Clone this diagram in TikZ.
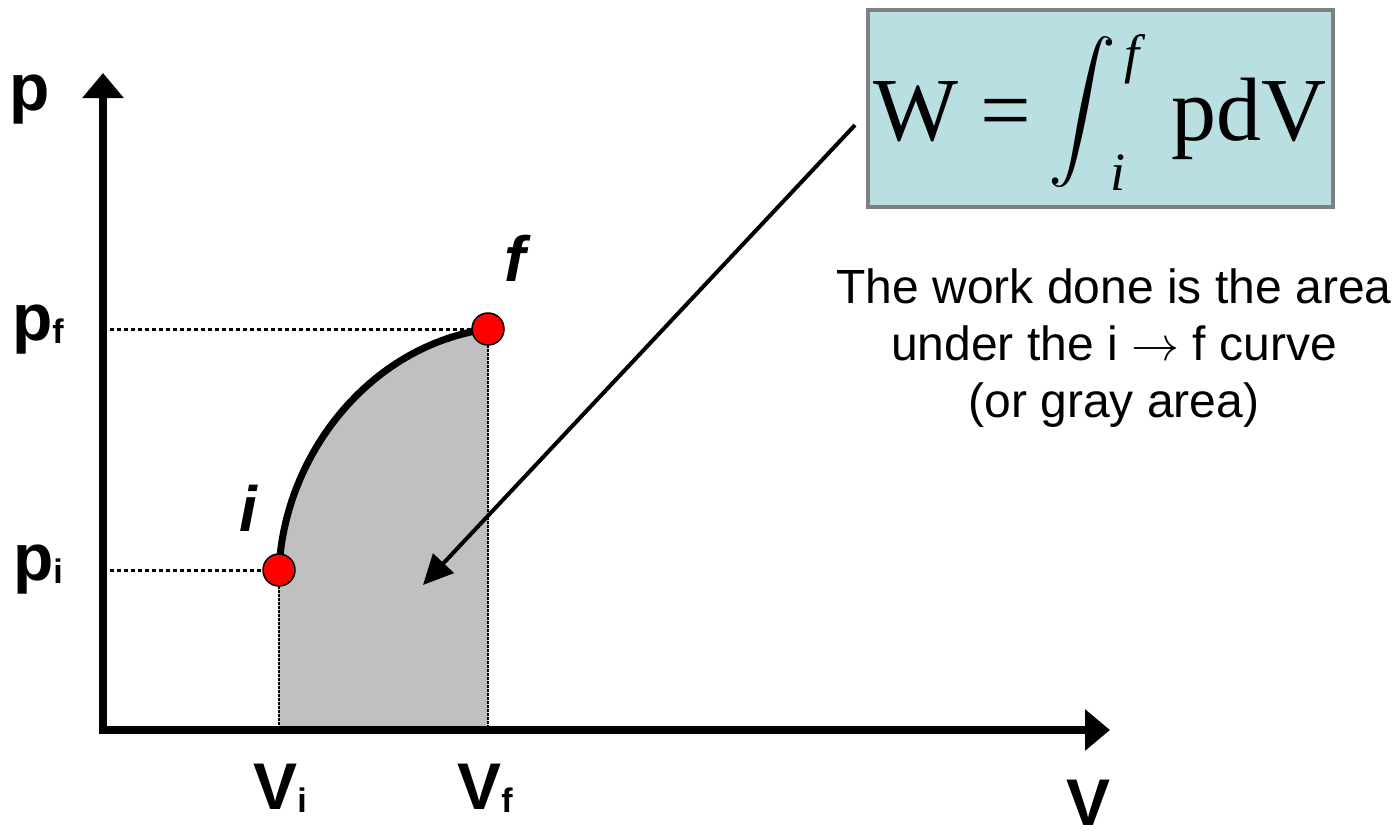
\documentclass[tikz,border=0pt]{standalone}
\usepackage{fontspec}
\usepackage{graphicx}
\setmainfont{Liberation Serif}
\setsansfont{Liberation Sans}
\usetikzlibrary{arrows.meta}
\definecolor{pointred}{HTML}{FF0000}
\definecolor{areagray}{HTML}{C0C0C0}
\definecolor{boxblue}{HTML}{B9DFE3}
\definecolor{boxedge}{HTML}{808080}
\newcommand{\axsub}[1]{\raisebox{-3pt}{\fontsize{34}{34}\selectfont #1}}
\newcommand{\limtxt}[1]{{\fontsize{54}{54}\selectfont\itshape #1}}

\begin{document}
\begin{tikzpicture}[x=1pt, y=-1pt,
    axis/.style={line width=8pt, -{Triangle[length=25pt,width=40pt]}},
    guide/.style={line width=3pt, dash pattern=on 4pt off 3pt},
    drop/.style={line width=1.2pt, dash pattern=on 3pt off 1pt},
    state/.style={circle, draw, line width=1.5pt, fill=pointred, minimum size=32pt, inner sep=0pt},
    pointer/.style={line width=4pt, -{Triangle[length=30pt,width=28pt]}},
    axlabel/.style={font=\fontsize{66}{66}\selectfont\sffamily\bfseries, inner sep=0pt},
    ptlabel/.style={font=\fontsize{64}{64}\selectfont\sffamily\bfseries\itshape, inner sep=0pt},
    note/.style={font=\fontsize{48}{57}\selectfont\sffamily, align=center},
]
\useasboundingbox (0,0) rectangle (1398,833);

% Key points
\coordinate (origin) at (103,730);
\coordinate (ci) at (279,570);
\coordinate (cf) at (488,329);
\coordinate (yi) at (103,570);
\coordinate (yf) at (103,329);
\coordinate (xi) at (279,730);
\coordinate (xf) at (488,730);

% Area under the curve
\fill[areagray] (xi) -- (ci) .. controls (284,455) and (370,345) .. (cf) -- (xf) -- cycle;
\draw[drop] (ci) -- (xi);
\draw[drop] (cf) -- (xf);
\draw[guide] (yi) -- (ci);
\draw[guide] (yf) -- (cf);
\draw[line width=7pt] (ci) .. controls (284,455) and (370,345) .. (cf);

% Axes
\draw[axis] (103,734) -- (103,73);
\draw[axis] (99,730) -- (1110,730);

% States
\node[state] (pi) at (ci) {};
\node[state] (pf) at (cf) {};

% Labels
\node[axlabel] (plab) at (30,100) {p};
\node[axlabel] (pflab) at (38,330) {p\axsub{f}};
\node[axlabel] (pilab) at (38,570) {p\axsub{i}};
\node[axlabel] (vilab) at (280,788) {V\axsub{i}};
\node[axlabel] (vflab) at (485,788) {V\axsub{f}};
\node[axlabel] (vlab) at (1088,803) {V};
\node[ptlabel] (ilab) at (248,508) {i};
\node[ptlabel] (flab) at (515,258) {f};

% Formula box
\node[draw=boxedge, line width=4pt, fill=boxblue, minimum width=465pt, minimum height=197pt, inner sep=0pt,
      text height=110pt, text depth=47pt, font=\fontsize{90}{90}\selectfont] (work) at (1100,108.5)
      {W\hspace{22pt}=\hspace{17pt}\raisebox{11pt}{\scalebox{6.8}{\normalsize$\displaystyle\int$}}%
       \hspace{8pt}\rlap{\raisebox{68pt}{\limtxt{f}}}\hspace{-14pt}\raisebox{-50pt}{\limtxt{i}}%
       \hspace{46pt}pdV};
\node[note] (caption) at (1114,348) {The work done is the area\\under the i \scalebox{4.8}{\normalsize$\rightarrow$} f curve\\(or gray area)};

% Pointer into the area
\coordinate (tail) at (855,125);
\coordinate (aim) at (423,585);
\draw[pointer] (tail) -- (aim);

\end{tikzpicture}
\end{document}
